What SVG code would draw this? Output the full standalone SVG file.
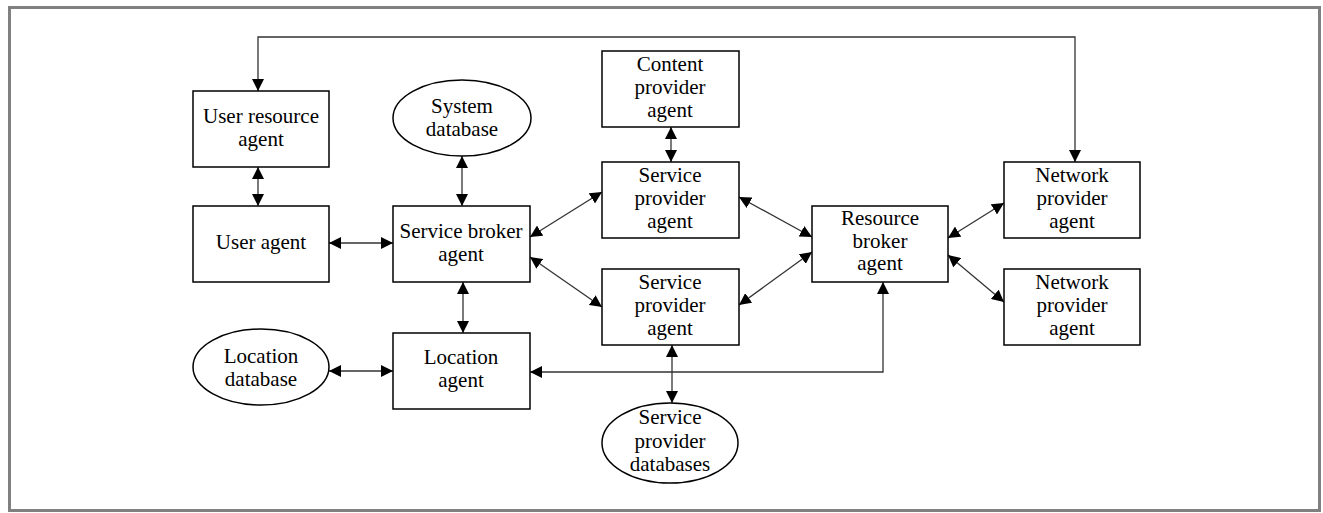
<svg xmlns="http://www.w3.org/2000/svg" width="1323" height="513" viewBox="0 0 1323 513">
<defs>
<marker id="ah" markerWidth="12" markerHeight="12" refX="12" refY="6" orient="auto-start-reverse" markerUnits="userSpaceOnUse">
<path d="M0,0 L12,6 L0,12 z" fill="#000"/>
</marker>
<style>
.box{fill:#fff;stroke:#000;stroke-width:1.5}
.t{font-family:"Liberation Serif","Times New Roman",serif;font-size:21px;fill:#000;text-anchor:middle}
.c{fill:none;stroke:#333;stroke-width:1.3}
.bi{marker-start:url(#ah);marker-end:url(#ah)}
</style>
</defs>
<rect x="0" y="0" width="1323" height="513" fill="#fff"/>
<rect x="9.5" y="7.5" width="1310" height="503" fill="#fff" stroke="#808080" stroke-width="3"/>

<g id="connectors">
<polyline class="c bi" points="1075,162 1075,37 258,37 258,91"/>
<line class="c bi" x1="258" y1="167" x2="258" y2="206"/>
<line class="c bi" x1="329" y1="243" x2="393" y2="243"/>
<line class="c bi" x1="462" y1="156" x2="462" y2="206"/>
<line class="c bi" x1="463" y1="282" x2="463" y2="333"/>
<line class="c bi" x1="329" y1="371" x2="393" y2="371"/>
<line class="c bi" x1="671" y1="127" x2="671" y2="162"/>
<line class="c bi" x1="672" y1="345" x2="672" y2="403"/>
<line class="c bi" x1="530" y1="237" x2="602" y2="192"/>
<line class="c bi" x1="530" y1="257" x2="602" y2="307"/>
<line class="c bi" x1="739" y1="197" x2="812" y2="237"/>
<line class="c bi" x1="739" y1="305" x2="812" y2="252"/>
<line class="c bi" x1="948" y1="238" x2="1004" y2="203"/>
<line class="c bi" x1="948" y1="255" x2="1004" y2="302"/>
<polyline class="c bi" points="530,372 883,372 883,282"/>
</g>

<g id="user-resource-agent">
<rect class="box" x="193" y="91" width="136" height="76"/>
<text class="t" x="261" y="123">User resource</text>
<text class="t" x="261" y="146">agent</text>
</g>
<g id="user-agent">
<rect class="box" x="193" y="206" width="136" height="76"/>
<text class="t" x="261" y="249">User agent</text>
</g>
<g id="system-database">
<ellipse class="box" cx="462" cy="118" rx="69" ry="38"/>
<text class="t" x="462" y="113">System</text>
<text class="t" x="462" y="136">database</text>
</g>
<g id="service-broker-agent">
<rect class="box" x="393" y="206" width="137" height="76"/>
<text class="t" x="461" y="238">Service broker</text>
<text class="t" x="461" y="261">agent</text>
</g>
<g id="location-database">
<ellipse class="box" cx="261" cy="367" rx="68" ry="38"/>
<text class="t" x="261" y="363">Location</text>
<text class="t" x="261" y="386">database</text>
</g>
<g id="location-agent">
<rect class="box" x="393" y="333" width="137" height="76"/>
<text class="t" x="461" y="364">Location</text>
<text class="t" x="461" y="387">agent</text>
</g>
<g id="content-provider-agent">
<rect class="box" x="602" y="51" width="137" height="76"/>
<text class="t" x="670" y="71">Content</text>
<text class="t" x="670" y="94">provider</text>
<text class="t" x="670" y="117">agent</text>
</g>
<g id="service-provider-agent-1">
<rect class="box" x="602" y="162" width="137" height="76"/>
<text class="t" x="670" y="182">Service</text>
<text class="t" x="670" y="205">provider</text>
<text class="t" x="670" y="228">agent</text>
</g>
<g id="service-provider-agent-2">
<rect class="box" x="602" y="269" width="137" height="76"/>
<text class="t" x="670" y="289">Service</text>
<text class="t" x="670" y="312">provider</text>
<text class="t" x="670" y="335">agent</text>
</g>
<g id="service-provider-databases">
<ellipse class="box" cx="670" cy="443" rx="68" ry="40"/>
<text class="t" x="670" y="424">Service</text>
<text class="t" x="670" y="448">provider</text>
<text class="t" x="670" y="471">databases</text>
</g>
<g id="resource-broker-agent">
<rect class="box" x="812" y="206" width="136" height="76"/>
<text class="t" x="880" y="225">Resource</text>
<text class="t" x="880" y="248">broker</text>
<text class="t" x="880" y="270">agent</text>
</g>
<g id="network-provider-agent-1">
<rect class="box" x="1004" y="162" width="136" height="76"/>
<text class="t" x="1072" y="182">Network</text>
<text class="t" x="1072" y="205">provider</text>
<text class="t" x="1072" y="228">agent</text>
</g>
<g id="network-provider-agent-2">
<rect class="box" x="1004" y="269" width="136" height="76"/>
<text class="t" x="1072" y="289">Network</text>
<text class="t" x="1072" y="312">provider</text>
<text class="t" x="1072" y="335">agent</text>
</g>
</svg>
